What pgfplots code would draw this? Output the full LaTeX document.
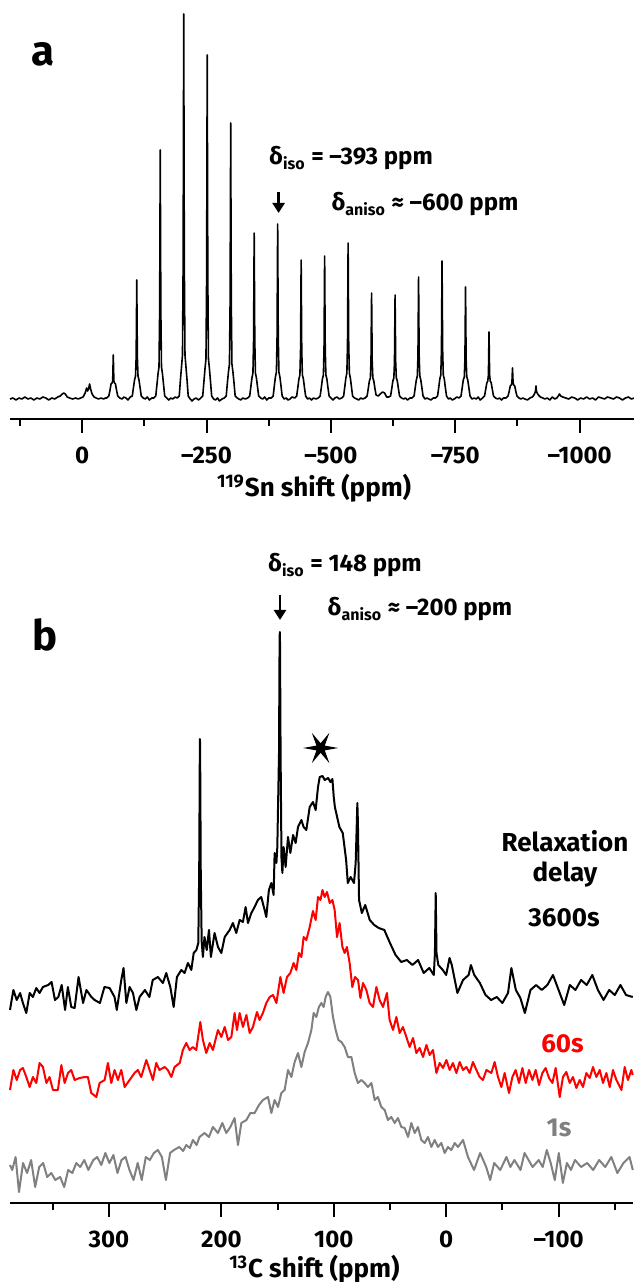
\documentclass[border=0pt]{standalone}
\usepackage{fontspec}
\setmainfont{Fira Sans}
\usepackage{pgfplots}
\pgfplotsset{compat=1.18}
\usetikzlibrary{arrows.meta}

% filled six-pointed star, horizontal points
\pgfdeclareplotmark{sixstar}{%
  \pgfpathmoveto{\pgfqpointpolar{0}{8.8pt}}%
  \pgfpathlineto{\pgfqpointpolar{30}{2.4pt}}%
  \pgfpathlineto{\pgfqpointpolar{60}{8.8pt}}%
  \pgfpathlineto{\pgfqpointpolar{90}{2.4pt}}%
  \pgfpathlineto{\pgfqpointpolar{120}{8.8pt}}%
  \pgfpathlineto{\pgfqpointpolar{150}{2.4pt}}%
  \pgfpathlineto{\pgfqpointpolar{180}{8.8pt}}%
  \pgfpathlineto{\pgfqpointpolar{210}{2.4pt}}%
  \pgfpathlineto{\pgfqpointpolar{240}{8.8pt}}%
  \pgfpathlineto{\pgfqpointpolar{270}{2.4pt}}%
  \pgfpathlineto{\pgfqpointpolar{300}{8.8pt}}%
  \pgfpathlineto{\pgfqpointpolar{330}{2.4pt}}%
  \pgfpathclose\pgfusepathqfill}

\pgfplotsset{
  nmr/.style={
    scale only axis, x dir=reverse,
    axis x line*=bottom, axis y line=none, ytick=\empty,
    tick align=outside, major tick length=7pt, minor tick length=3.5pt,
    tick style={line width=1pt, black},
    x axis line style={line width=1pt},
    xticklabel style={font=\bfseries\fontsize{12}{14}\selectfont, yshift=-3.5pt},
    xlabel style={font=\bfseries\fontsize{13}{15}\selectfont,
      at={(axis description cs:0.5,0)}, anchor=center},
    clip=false
  }
}

\begin{document}
\begin{tikzpicture}[x=0.5pt,y=0.5pt]
\path[use as bounding box] (0,0) rectangle (633,1282);

% ---------- panel a: 119Sn ----------
\begin{axis}[nmr, at={(5pt,431.5pt)}, anchor=south west,
  width=312.2pt, height=209.5pt,
  xmin=-1110, xmax=145, ymin=0, ymax=419,
  xtick={-1000,-750,-500,-250,0},
  xticklabels={–1000,–750,–500,–250,0},
  minor xtick={-875,-625,-375,-125,125},
  xlabel={\textsuperscript{119}Sn shift (ppm)},
  xlabel style={yshift=-34.5pt, xshift=-4pt}]
\addplot[black, line width=0.8pt, line join=round] coordinates {
(145,20)(139,21)(133,19)(127,21)(121,20)(115,22)(109,20)(103,21)(97,19)(91,21)
(85,20)(79,22)(73,21)(67,19)(61,21)(55,20)(49,22)(44,23)(40,25)(37,26)(34,25)
(30,22)(25,21)(19,20)(13,21)(8,20)(3,21)(-2,22)(-6,26)(-9,31)(-11,28)(-13,30)
(-15,35)(-17,30)(-20,25)(-24,22)(-28,21)(-33,20)(-38,21)(-43,20)(-47,21)
(-49.6,21)(-53.6,23)(-56.1,29)(-58.1,35)(-60.1,36)(-61.4,38)(-62.6,64)(-63.8,38)(-65.1,36)(-67.1,35)(-69.1,29)(-71.6,23)(-75.6,21)
(-80,20)(-84,22)(-88,21)(-92,19)
(-96.8,22)(-100.8,23)(-103.3,32)(-105.3,39)(-107.3,43)(-108.6,62)(-109.8,139)(-111,62)(-112.3,43)(-114.3,39)(-116.3,32)(-118.8,23)(-122.8,21)
(-127,20)(-131,22)(-135,19)(-140,21)
(-144,21)(-148,23)(-150.5,35)(-152.5,45)(-154.5,52)(-155.8,108)(-157,269)(-158.2,108)(-159.5,52)(-161.5,45)(-163.5,35)(-166,23)(-170,21)
(-174,19)(-178,21)(-182,20)(-187,22)
(-191.2,21)(-195.2,23)(-197.7,40)(-199.7,52)(-201.7,64)(-203,155)(-204.2,405)(-205.4,155)(-206.7,64)(-208.7,52)(-210.7,40)(-213.2,23)(-217.2,20)
(-221,18)(-225,20)(-229,21)(-234,19)
(-238.4,21)(-242.4,23)(-244.9,38)(-246.9,50)(-248.9,60)(-250.2,141)(-251.4,364)(-252.6,141)(-253.9,60)(-255.9,50)(-257.9,38)(-260.4,23)(-264.4,20)
(-268,19)(-272,21)(-276,18)(-281,20)
(-285.6,21)(-289.6,23)(-292.1,37)(-294.1,47)(-296.1,55)(-297.4,117)(-298.6,296)(-299.8,117)(-301.1,55)(-303.1,47)(-305.1,37)(-307.6,23)(-311.6,21)
(-315,20)(-319,19)(-323,21)(-328,20)
(-332.8,21)(-336.8,23)(-339.3,33)(-341.3,41)(-343.3,46)(-344.6,79)(-345.8,186)(-347,79)(-348.3,46)(-350.3,41)(-352.3,33)(-354.8,23)(-358.8,21)
(-363,20)(-367,22)(-371,19)(-375,21)
(-380,21)(-384,23)(-386.5,34)(-388.5,42)(-390.5,47)(-391.8,82)(-393,195)(-394.2,82)(-395.5,47)(-397.5,42)(-399.5,34)(-402,23)(-406,20)
(-410,21)(-414,19)(-418,20)(-422,22)
(-427.2,21)(-431.2,23)(-433.7,32)(-435.7,40)(-437.7,44)(-439,69)(-440.2,159)(-441.4,69)(-442.7,44)(-444.7,40)(-446.7,32)(-449.2,23)(-453.2,20)
(-457,21)(-461,19)(-465,21)(-470,20)
(-474.4,21)(-478.4,23)(-480.9,32)(-482.9,40)(-484.9,44)(-486.2,71)(-487.4,163)(-488.6,71)(-489.9,44)(-491.9,40)(-493.9,32)(-496.4,23)(-500.4,21)
(-504,19)(-508,21)(-512,22)(-517,20)
(-521.6,21)(-525.6,23)(-528.1,33)(-530.1,41)(-532.1,46)(-533.4,75)(-534.6,176)(-535.8,75)(-537.1,46)(-539.1,41)(-541.1,33)(-543.6,23)(-547.6,21)
(-552,20)(-556,19)(-560,21)(-564,20)
(-568.8,21)(-572.8,23)(-575.3,31)(-577.3,38)(-579.3,41)(-580.6,58)(-581.8,126)(-583,58)(-584.3,41)(-586.3,38)(-588.3,31)(-590.8,24)(-595,23)
(-599,25)(-604,27)(-608,26)(-612,22)
(-616,22)(-620,23)(-622.5,31)(-624.5,38)(-626.5,41)(-627.8,57)(-629,124)(-630.2,57)(-631.5,41)(-633.5,38)(-635.5,31)(-638,23)(-642,21)
(-646,20)(-650,21)(-654,19)(-659,21)
(-663.2,21)(-667.2,23)(-669.7,32)(-671.7,39)(-673.7,43)(-675,63)(-676.2,142)(-677.4,63)(-678.7,43)(-680.7,39)(-682.7,32)(-685.2,23)(-689.2,20)
(-693,21)(-697,20)(-701,19)(-706,21)
(-710.4,21)(-714.4,23)(-716.9,32)(-718.9,40)(-720.9,44)(-722.2,69)(-723.4,158)(-724.6,69)(-725.9,44)(-727.9,40)(-729.9,32)(-732.4,23)(-736.4,20)
(-740,21)(-744,19)(-748,20)(-753,22)
(-757.6,21)(-761.6,23)(-764.1,32)(-766.1,39)(-768.1,42)(-769.4,60)(-770.6,132)(-771.8,60)(-773.1,42)(-775.1,39)(-777.1,32)(-779.6,23)(-783.6,20)
(-788,21)(-792,20)(-796,22)(-800,19)
(-804.8,21)(-808.8,23)(-811.3,30)(-813.3,36)(-815.3,38)(-816.6,44)(-817.8,87)(-819,44)(-820.3,38)(-822.3,36)(-824.3,30)(-826.8,23)(-830.8,21)
(-835,20)(-839,21)(-843,19)(-847,21)
(-852,21)(-856,23)(-858.5,28)(-860.5,33)(-862.5,34)(-863.8,36)(-865,51)(-866.2,36)(-867.5,34)(-869.5,33)(-871.5,28)(-874,23)(-878,21)
(-882,20)(-886,21)(-890,20)(-895,19)
(-900,21)(-905,22)(-908,24)(-910,26)(-911.2,28)(-912.2,33)(-913.2,28)(-914.5,26)(-917,24)(-921,22)
(-926,21)(-930,20)(-935,21)(-940,19)(-945,22)(-950,20)
(-954,21)(-957,23)(-959.4,25)(-962,23)(-966,22)
(-972,21)(-978,20)(-984,22)(-990,21)(-996,19)(-1002,21)(-1008,20)(-1014,22)(-1020,20)(-1026,21)
(-1032,19)(-1038,22)(-1044,21)(-1050,20)(-1056,22)(-1062,21)(-1068,20)(-1074,22)(-1080,21)(-1086,19)
(-1092,21)(-1098,22)(-1104,20)(-1110,21)
};
\end{axis}

% ---------- panel b: 13C ----------
\begin{axis}[nmr, at={(5pt,39.5pt)}, anchor=south west,
  width=311.4pt, height=300pt,
  xmin=-166, xmax=388, ymin=0, ymax=600,
  xtick={-100,0,100,200,300},
  xticklabels={–100,0,100,200,300},
  minor xtick={-150,-50,50,150,250,350},
  xlabel={\textsuperscript{13}C shift (ppm)},
  xlabel style={yshift=-33pt, xshift=-3.5pt}]
% 1 s
\addplot[gray, line width=1pt, line join=round] coordinates {
(388,38)(386,33)(383,46)(380,11)(376.4,40)(372.8,30)(369.2,43)(365.6,16)(362,36)(358.5,40)
(354.9,26)(351.3,30)(347.7,23)(343.4,26)(339.8,16)(336.2,33)(332.6,30)(329,40)(325.5,36)(321.9,43)
(318.3,33)(313.9,43)(310.4,46)(306.8,38)(303.2,50)(299.6,40)(296,48)(292.4,30)(288.8,43)(285.2,46)
(281.7,33)(278.1,23)(274.4,40)(270.8,23)(267.2,46)(263.6,43)(260,50)(256.5,53)(252.9,46)(249.3,23)
(245.6,50)(242.1,53)(237.4,56)(234,52)(231.2,58)(228,55)(225.3,63)(222,58)(219.4,66)(215,70)
(211,66)(207.5,76)(203,70)(199.1,80)(195.6,70)(192,76)(188.2,85)(185.2,58)(182.2,80)(177.7,83)
(174.2,90)(170.4,90)(166.5,98)(163,103)(158.5,106)(155.5,90)(152.6,103)(149.6,96)(146.6,110)(143.7,113)
(140.7,133)(137.7,126)(134.8,141)(131.8,150)(128.8,136)(125.9,151)(122.9,160)(119.9,173)(117.9,190)(115.5,186)
(113.2,196)(111,200)(109,196)(107.2,206)(105.2,211)(103,206)(100.7,186)(98.3,173)(95.9,163)(93.2,161)
(90.3,156)(87.4,146)(84.3,146)(81.4,130)(78.5,120)(75.4,123)(72.5,120)(69.6,116)(66.5,120)(63.6,103)
(60.7,106)(57.7,96)(54.7,93)(51.8,83)(48.8,86)(45.8,80)(42.9,85)(39.9,76)(36.9,75)(33.9,66)
(31,80)(28,70)(25.1,76)(22.1,63)(19.1,60)(16.2,66)(13.2,56)(10.2,63)(7.3,56)(4.3,60)
(1.3,50)(-1.6,56)(-4.6,53)(-7.6,60)(-10.5,56)(-15,63)(-19.4,46)(-24.8,33)(-30.2,50)(-35.6,36)
(-39.1,23)(-42.7,40)(-48.1,33)(-53.6,46)(-57.1,36)(-60.7,43)(-66.1,33)(-69.7,50)(-73.3,43)(-76.9,36)
(-82.3,43)(-85.9,36)(-89.5,53)(-93,40)(-96.6,23)(-100.2,50)(-103.8,20)(-107.4,40)(-111,33)(-114.6,43)
(-120,36)(-125.4,40)(-130.8,33)(-136.1,43)(-141.5,36)(-146.9,46)(-152.3,30)(-157.7,40)(-163.1,46)(-166,33)
};
% 60 s
\addplot[red, line width=1pt, line join=round] coordinates {
(388,113)(385,133)(382,123)(379,133)(376.5,135)(373.5,126)(370.5,116)(367.6,126)(364.6,120)(361.7,140)
(358.7,136)(355.6,120)(352.8,126)(349.8,113)(345.4,113)(342.3,138)(339.4,120)(336.4,130)(333.5,133)(330.5,123)
(326,125)(321.6,126)(318.7,126)(315.7,110)(311.2,106)(308.3,120)(303.8,123)(300.9,140)(297.9,120)(295,133)
(292,123)(289,133)(286,116)(281.6,123)(277.2,130)(274.3,133)(271.3,126)(266.7,143)(263.8,133)(260.9,123)
(257.9,140)(255,133)(250.5,136)(247.6,133)(244.5,126)(241.6,136)(237,140)(234.2,153)(231.2,160)(228.2,153)
(225.3,156)(222.3,153)(218.7,181)(216.4,163)(213.4,150)(210.4,160)(207.5,153)(203,173)(200,166)(197,176)
(194,163)(191.1,166)(188.2,190)(186.1,173)(183.7,190)(180.8,176)(177.7,188)(174.8,170)(171.9,176)(168.3,191)
(166,183)(163,190)(160,200)(157,206)(154,208)(151,200)(147.5,226)(144.6,210)(141.6,226)(138.6,230)
(135.7,240)(133.3,233)(131,250)(128.8,246)(126.8,266)(124.4,263)(121.4,276)(118.5,292)(116.1,283)(114,306)
(111.8,303)(110,313)(108.1,306)(106,311)(103.6,300)(101.2,303)(99.2,293)(97.1,266)(94.8,280)(92.3,256)
(90.3,250)(88.3,256)(85.9,240)(83.5,216)(81.1,226)(78.4,223)(76.3,205)(74,220)(71,213)(68.1,200)
(65.1,196)(62.1,216)(59.2,203)(56.2,196)(52.7,210)(50.3,183)(47.3,173)(44.3,186)(41.4,170)(38.4,176)
(35.4,166)(32.5,156)(29.5,165)(26.5,150)(23.6,155)(20.6,146)(17.6,158)(14.7,148)(11.7,153)(8.7,130)
(5.8,140)(2.8,135)(-0.2,143)(-3.1,133)(-6,140)(-9.1,130)(-12,141)(-15,133)(-18,136)(-20.9,130)
(-23.8,141)(-26.9,133)(-29.8,126)(-32.7,123)(-35.8,133)(-40.2,130)(-43.1,141)(-46.1,126)(-49.1,116)(-52,130)
(-55.9,110)(-58.9,126)(-61.8,133)(-64.8,120)(-67.8,135)(-70.7,120)(-73.7,133)(-76.7,123)(-79.6,133)(-82.6,118)
(-85.6,130)(-88.5,135)(-91.5,125)(-94.5,120)(-97.4,135)(-101,106)(-103.9,126)(-106.9,131)(-109.9,120)(-112.8,126)
(-115.8,115)(-118.8,123)(-121.7,116)(-124.7,130)(-127.7,125)(-130.6,136)(-133.6,126)(-136.6,133)(-139.5,120)(-142.5,130)
(-145.5,116)(-148.4,133)(-151.4,123)(-155.9,113)(-158.8,136)(-161.7,123)(-164.7,133)(-166,128)
};
% 3600 s
\addplot[black, line width=1pt, line join=round] coordinates {
(388,193)(385,213)(382,203)(379,210)(376.5,200)(373.5,190)(370.5,210)(367.6,206)(364.6,215)(361.7,210)
(358.7,216)(354,218)(351,221)(348,203)(345,206)(342,218)(339,193)(336.5,216)(333.5,196)(330.5,195)
(327,226)(323,200)(320,213)(315.6,206)(312.7,203)(308,200)(304,216)(299.4,215)(295,206)(293,193)
(289,223)(287,235)(284.5,200)(281.6,216)(278.6,210)(275.6,193)(272.7,206)(268,213)(264,206)(261,223)
(256.4,226)(252,220)(249,230)(245.4,216)(242.4,196)(239.5,226)(235.6,233)(232.7,230)(229.7,240)(226.7,233)
(224.6,250)(222.2,253)(220.5,260)(219.7,330)(219.2,440)(219,464)(218.8,440)(218.3,330)(217.5,262)(216.4,246)
(215,266)(213,253)(211,273)(209.3,246)(206,270)(203,256)(200,250)(197,266)(192.6,273)(189.7,280)
(186.7,270)(183.7,283)(180.8,281)(178.4,296)(176.3,280)(173.3,290)(170.4,296)(167.5,303)(164.5,306)(161.5,293)
(160,286)(157.7,313)(155.5,320)(153.5,308)(152.6,350)(151,340)(150.2,356)(148.7,450)(148.2,560)(148,571)
(147.8,560)(147.3,450)(146.5,345)(145.7,330)(144.6,356)(142.8,336)(140.7,366)(138.6,350)(136.2,368)(133.9,360)
(131.8,376)(128.8,383)(126.8,376)(124.4,373)(121.4,396)(118.5,401)(116.1,393)(114,416)(112.5,426)(110,427)
(108,423)(105,425)(103,421)(101.2,424)(100,406)(99,396)(95,376)(92,370)(89,343)(87.5,320)
(85,326)(82,320)(80.5,340)(79.5,380)(79,400)(78.5,380)(77.5,303)(75,290)(72,298)(68,283)
(64,278)(60,275)(55,273)(50,260)(45,248)(40,241)(35,243)(30,238)(25,243)(20,230)
(15,235)(11,228)(10,250)(9.3,310)(8.6,250)(7,238)(3,233)(0,228)(-3,245)(-5,238)
(-10,210)(-15,223)(-20,228)(-22,238)(-25,228)(-30,220)(-35,208)(-40,203)(-45,206)(-50,200)
(-55,210)(-58,235)(-62,213)(-66,205)(-70,190)(-75,213)(-80,218)(-85,213)(-90,218)(-95,228)
(-100,213)(-105,198)(-110,218)(-115,213)(-120,223)(-125,218)(-130,228)(-135,213)(-140,203)(-145,213)
(-150,208)(-155,218)(-160,208)(-166,206)
};
\addplot[only marks, mark=sixstar, black] coordinates {(111.7,455)};
\end{axis}

% ---------- annotations ----------
\tikzset{lab/.style={font=\bfseries\fontsize{12}{14}\selectfont, inner sep=0pt}}
\node[font=\bfseries\fontsize{21}{24}\selectfont, inner sep=0pt] at (43,1228) {a};
\node[font=\bfseries\fontsize{21}{24}\selectfont, inner sep=0pt] at (45.5,647) {b};

\node[lab, anchor=base] at (351,1117) {δ\textsubscript{iso} = –393 ppm};
\node[lab, anchor=base] at (425,1071) {δ\textsubscript{aniso} ≈ –600 ppm};
\draw[line width=1.2pt, -{Triangle[width=6pt,length=5pt]}] (278.6,1090) -- (278.6,1069);

\node[lab, anchor=base] at (345,710) {δ\textsubscript{iso} = 148 ppm};
\node[lab, anchor=base] at (420,666) {δ\textsubscript{aniso} ≈ –200 ppm};
\draw[line width=1.2pt, -{Triangle[width=6pt,length=5pt]}] (280,687) -- (280,662);

\tikzset{del/.style={font=\bfseries\fontsize{13}{15}\selectfont, inner sep=0pt, anchor=base}}
\node[del] at (565,430) {Relaxation};
\node[del] at (565,400) {delay};
\node[del] at (564,355) {3600s};
\node[del, red] at (562.5,229) {60s};
\node[del, gray] at (559,145) {1s};
\end{tikzpicture}
\end{document}
